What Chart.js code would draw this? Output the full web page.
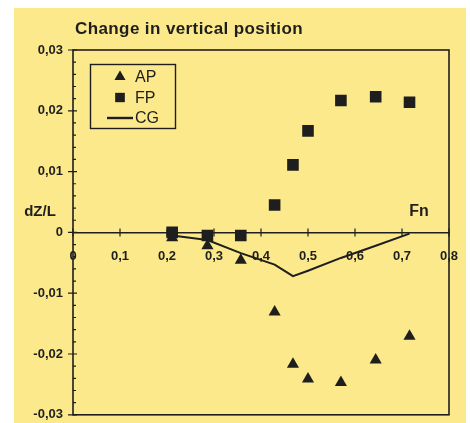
<!DOCTYPE html>
<html>
<head>
<meta charset="utf-8">
<script src="https://cdn.jsdelivr.net/npm/chart.js@4"></script>
<style>
    html, body { margin: 0; background: #fff; }
    #wrap { width: 470px; height: 423px; }
</style>
</head>
<body>
<div id="wrap"><canvas id="chart" width="470" height="423"></canvas></div>
<script>
// Froude number of each run
const FN = [0.211, 0.286, 0.357, 0.429, 0.468, 0.5, 0.57, 0.644, 0.716];
// dZ/L at aft perpendicular, fore perpendicular and centre of gravity
const AP = [-0.0009, -0.0022, -0.0046, -0.0131, -0.0217, -0.0241, -0.0247, -0.021, -0.0171];
const FP = [0, -0.0005, -0.0005, 0.0045, 0.0111, 0.0167, 0.0217, 0.0223, 0.0214];
const CG = [-0.0005, -0.00125, -0.0034, -0.0053, -0.0072, -0.0063, -0.0042, -0.0022, -0.0002];

const X_TICKS = [0, 0.1, 0.2, 0.3, 0.4, 0.5, 0.6, 0.7, 0.8];
const Y_TICKS = [-0.03, -0.02, -0.01, 0, 0.01, 0.02, 0.03];
const Y_MINOR_STEP = 0.002;

const INK = '#1e1e1e';
const PAPER = '#fce98b';
const FONT = '"Liberation Sans", Arial, sans-serif';

const toPoints = ys => FN.map((x, i) => ({ x, y: ys[i] }));

function tickLabel(v, decimals) {
    if (Math.abs(v) < 1e-9) return '0';
    return v.toFixed(decimals).replace('.', ',');
}

// labels may hang over the frame, so the scales should not shrink the plot for them
function noOverhang(scale) {
    scale.paddingTop = 0;
    scale.paddingBottom = 0;
    scale.paddingLeft = 0;
    scale.paddingRight = 0;
}

// yellow card, frame, tick marks, labels and the inset legend
const decorations = {
    id: 'decorations',
    beforeDraw(chart) {
        const { ctx } = chart;
        ctx.save();
        ctx.fillStyle = PAPER;
        ctx.fillRect(14, 8, 452, 415);
        ctx.restore();
    },
    afterDraw(chart) {
        const { ctx, chartArea: a, scales } = chart;
        const x = scales.x, y = scales.y;
        const y0 = y.getPixelForValue(0);

        ctx.save();
        ctx.strokeStyle = INK;
        ctx.lineWidth = 1.6;
        ctx.strokeRect(a.left, a.top, a.right - a.left, a.bottom - a.top);

        // y axis ticks
        ctx.lineWidth = 1.2;
        ctx.beginPath();
        const n = Math.round((y.max - y.min) / Y_MINOR_STEP);
        for (let i = 0; i <= n; i++) {
            const v = y.min + i * Y_MINOR_STEP;
            const py = y.getPixelForValue(v);
            const major = Math.abs(v * 100 - Math.round(v * 100)) < 1e-6;
            ctx.moveTo(a.left - (major ? 5 : 0), py);
            ctx.lineTo(a.left + (major ? 4 : 3), py);
        }
        // x axis ticks across the zero line
        X_TICKS.forEach(v => {
            const px = x.getPixelForValue(v);
            ctx.moveTo(px, y0 - 4);
            ctx.lineTo(px, y0 + 4);
        });
        ctx.stroke();

        // axis names
        ctx.fillStyle = INK;
        ctx.textBaseline = 'middle';
        ctx.textAlign = 'center';
        ctx.font = 'bold 15px ' + FONT;
        ctx.fillText('dZ/L', 40, 212);
        ctx.font = 'bold 16px ' + FONT;
        ctx.fillText('Fn', 419, 212);

        // title
        ctx.textAlign = 'left';
        ctx.font = 'bold 17px ' + FONT;
        ctx.letterSpacing = '0.4px';
        ctx.fillText('Change in vertical position', 75, 29);
        ctx.letterSpacing = '0px';

        // legend
        ctx.lineWidth = 1.4;
        ctx.strokeRect(90.5, 64.5, 85, 64);
        ctx.font = '16px ' + FONT;
        const rows = [77, 97.5, 118];
        chart.data.datasets.forEach((ds, i) => {
            const ly = rows[i];
            if (ds.showLine) {
                ctx.lineWidth = 2.4;
                ctx.beginPath();
                ctx.moveTo(107, ly);
                ctx.lineTo(133, ly);
                ctx.stroke();
            } else {
                Chart.helpers.drawPoint(ctx, {
                    pointStyle: ds.pointStyle,
                    radius: ds.pointStyle === 'rect' ? 6.5 : 6.2,
                    borderWidth: 0
                }, 120, ly);
                ctx.fill();
            }
            ctx.fillText(ds.label, 135, ly + 1);
        });
        ctx.restore();
    }
};

new Chart(document.getElementById('chart'), {
    type: 'scatter',
    data: {
        datasets: [
            {
                label: 'AP',
                data: toPoints(AP),
                pointStyle: 'triangle',
                pointRadius: 7,
                backgroundColor: INK,
                borderColor: INK,
                borderWidth: 0
            },
            {
                label: 'FP',
                data: toPoints(FP),
                pointStyle: 'rect',
                pointRadius: 8.2,
                backgroundColor: INK,
                borderColor: INK,
                borderWidth: 0
            },
            {
                label: 'CG',
                data: toPoints(CG),
                showLine: true,
                pointRadius: 0,
                borderColor: INK,
                borderWidth: 2,
                tension: 0
            }
        ]
    },
    options: {
        responsive: false,
        animation: false,
        layout: { padding: { left: 0, right: 21, top: 50, bottom: 7 } },
        plugins: {
            legend: { display: false },
            tooltip: { enabled: false }
        },
        scales: {
            x: {
                type: 'linear',
                min: 0,
                max: 0.8,
                position: { y: 0 },
                afterBuildTicks: scale => { scale.ticks = X_TICKS.map(value => ({ value })); },
                afterFit: noOverhang,
                grid: { display: false, drawTicks: false },
                border: { display: true, color: INK, width: 1.6 },
                ticks: {
                    padding: 16,
                    color: INK,
                    font: { family: FONT, size: 13, weight: 'bold' },
                    maxRotation: 0,
                    autoSkip: false,
                    callback: v => tickLabel(v, 1)
                }
            },
            y: {
                min: -0.03,
                max: 0.03,
                afterBuildTicks: scale => { scale.ticks = Y_TICKS.map(value => ({ value })); },
                afterFit: scale => { noOverhang(scale); scale.width = 73; },
                grid: { display: false, drawTicks: false },
                border: { display: false },
                ticks: {
                    padding: 10,
                    color: INK,
                    font: { family: FONT, size: 13, weight: 'bold' },
                    autoSkip: false,
                    callback: v => tickLabel(v, 2)
                }
            }
        }
    },
    plugins: [decorations]
});
</script>
</body>
</html>
